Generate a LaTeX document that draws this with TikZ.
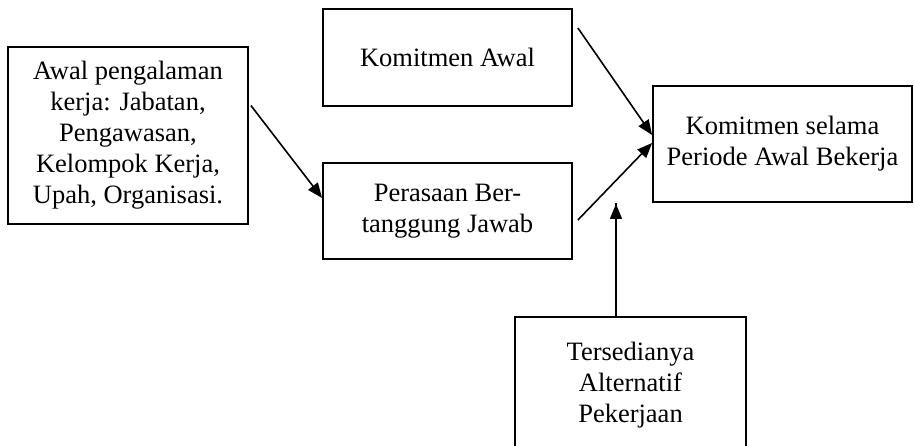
\documentclass[tikz,border=0pt]{standalone}
\usepackage{fontspec}
\setmainfont{Liberation Serif}
\usetikzlibrary{arrows.meta}
\begin{document}
\begin{tikzpicture}[x=1pt,y=-1pt,
  box/.style={draw,line width=1.8pt,align=center,inner sep=0pt,font=\fontsize{26.5}{31}\selectfont},
  conn/.style={line width=1.6pt,-{Triangle[length=15pt,width=12pt]}}]
\useasboundingbox (0,0) rectangle (914,446);
\fill[white] (0,0) rectangle (914,446);
\node[box,minimum width=240pt,minimum height=177pt] (b1) at (128,135.5)
  {Awal pengalaman\\kerja: Jabatan,\\Pengawasan,\\Kelompok Kerja,\\Upah, Organisasi.};
\node[box,minimum width=249pt,minimum height=97pt] (ka) at (447.5,57.5) {Komitmen Awal};
\node[box,minimum width=249pt,minimum height=96pt] (pb) at (447.5,211) {Perasaan Ber-\\tanggung Jawab};
\node[box,minimum width=259pt,minimum height=116pt] (ks) at (782.5,144) {Komitmen selama\\Periode Awal Bekerja};
\node[box,minimum width=231pt,minimum height=136pt] (ta) at (630.5,385) {Tersedianya\\Alternatif\\Pekerjaan};
\draw[conn] ([xshift=2pt,yshift=30pt]b1.east) -- ([yshift=13pt]pb.west);
\draw[conn] ([xshift=5pt,yshift=29.5pt]ka.east) -- ([yshift=9pt]ks.west);
\draw[conn] ([xshift=5pt,yshift=-9pt]pb.east) -- ([yshift=1pt]ks.west);
\coordinate (tb) at ([xshift=-14.5pt]ta.north);
\draw[conn] (tb) -- (tb |- ks.south) ++(0,1);
\end{tikzpicture}
\end{document}
